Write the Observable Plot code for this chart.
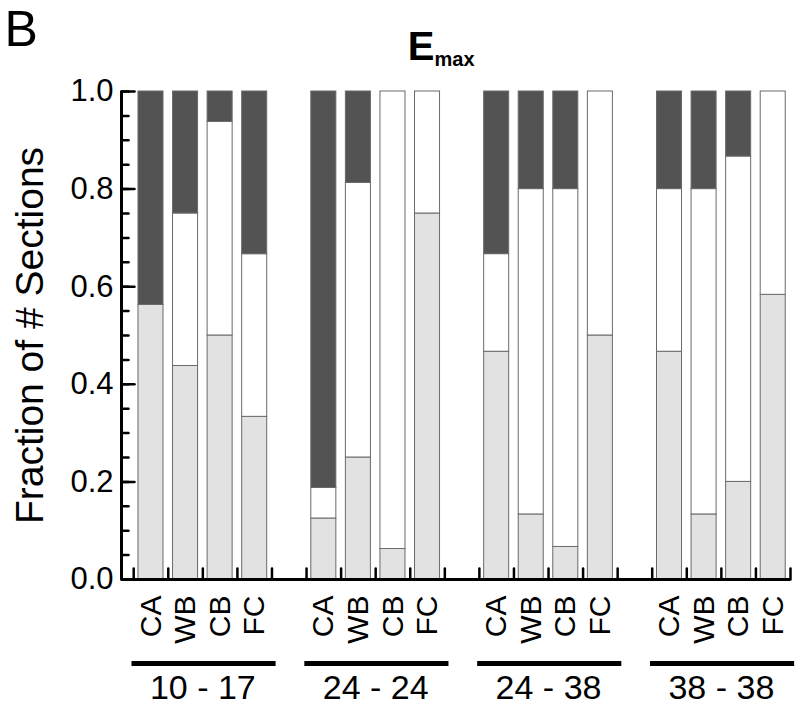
<!DOCTYPE html>
<html>
<head>
<meta charset="utf-8">
<script src="https://cdn.jsdelivr.net/npm/d3@7"></script>
<script src="https://cdn.jsdelivr.net/npm/@observablehq/plot@0.6"></script>
<style>
  html, body { margin: 0; padding: 0; background: #fff; }
  #chart svg { display: block; }
</style>
</head>
<body>
<div id="chart"></div>
<script>
// ---- data ----
const groups = ["10 - 17", "24 - 24", "24 - 38", "38 - 38"];
const regions = ["CA", "WB", "CB", "FC"];
// fraction per bar, group by group, region order CA WB CB FC
const lightFrac = [0.5625, 0.4375, 0.5, 0.3333, 0.125, 0.25, 0.0625, 0.75, 0.4667, 0.1333, 0.0667, 0.5, 0.4667, 0.1333, 0.2, 0.5833];
const whiteFrac = [0, 0.3125, 0.4375, 0.3333, 0.0625, 0.5625, 0.9375, 0.25, 0.2, 0.6667, 0.7333, 0.5, 0.3333, 0.6667, 0.6667, 0.4167];
const darkFrac  = [0.4375, 0.25, 0.0625, 0.3334, 0.8125, 0.1875, 0, 0, 0.3333, 0.2, 0.2, 0, 0.2, 0.2, 0.1333, 0];
const yTickValues = [0, 0.2, 0.4, 0.6, 0.8, 1.0];
const yMinorValues = d3.range(0, 1.0001, 0.05);
const seriesNames = ["light", "white", "dark"];
const seriesColors = ["#e2e2e2", "#ffffff", "#535353"];

// ---- build table ----
const slotsPerGroup = regions.length + 1;
const bars = [];
groups.forEach((g, gi) => regions.forEach((r, ri) => {
  bars.push({group: g, region: r, slot: gi * slotsPerGroup + ri, idx: gi * regions.length + ri});
}));
const rows = [];
bars.forEach(b => {
  const vals = [lightFrac[b.idx], whiteFrac[b.idx], darkFrac[b.idx]];
  let acc = 0;
  vals.forEach((v, si) => {
    if (v > 0) rows.push({slot: b.slot, series: seriesNames[si], y1: acc, y2: acc + v});
    acc += v;
  });
});
const boundaries = [];
groups.forEach((g, gi) => { for (let k = 0; k <= regions.length; k++) boundaries.push(gi * slotsPerGroup + k - 0.5); });
const half = 0.362;
const xDomain = [-0.853, 18.5];
const font = "'Liberation Sans', Arial, Helvetica, sans-serif";
const tickShape = {draw(context, l) { context.moveTo(0, 0); context.lineTo(0, -l); }};

const chart = Plot.plot({
  width: 800,
  height: 710,
  marginTop: 91,
  marginBottom: 131,
  marginLeft: 121,
  marginRight: 10,
  style: {fontFamily: font, background: "#fff", color: "#000", overflow: "visible"},
  x: {domain: xDomain, axis: null},
  y: {domain: [0, 1], axis: null},
  color: {domain: seriesNames, range: seriesColors},
  marks: [
    Plot.rect(rows, {
      x1: d => d.slot - half, x2: d => d.slot + half,
      y1: "y1", y2: "y2",
      fill: "series", stroke: "#6a6a6a", strokeWidth: 1
    }),
    // axis lines
    Plot.ruleX([xDomain[0]], {stroke: "#000", strokeWidth: 3}),
    Plot.ruleY([0], {stroke: "#000", strokeWidth: 3}),
    // y axis ticks (inward)
    Plot.vector(yMinorValues, {x: () => xDomain[0], y: d => d, length: 7, rotate: 90, anchor: "start", shape: tickShape, stroke: "#000", strokeWidth: 2.5}),
    Plot.vector(yTickValues, {x: () => xDomain[0], y: d => d, length: 13, rotate: 90, anchor: "start", shape: tickShape, stroke: "#000", strokeWidth: 2.5}),
    // y tick labels
    Plot.axisY(yTickValues, {anchor: "left", tickSize: 0, tickPadding: 8, tickFormat: d3.format(".1f"), fontSize: 31, label: null}),
    // x axis ticks (inward)
    Plot.vector(boundaries, {x: d => d, y: () => 0, length: 11, rotate: 0, anchor: "start", shape: tickShape, stroke: "#000", strokeWidth: 2.5}),
    // category labels
    Plot.text(bars, {x: "slot", y: () => 0, text: "region", rotate: -90, textAnchor: "end", lineAnchor: "middle", dy: 16, fontSize: 30, fill: "#000"}),
    // group underline
    Plot.ruleY(groups, {y: () => 0, x1: (d, i) => i * slotsPerGroup - 0.55, x2: (d, i) => i * slotsPerGroup + regions.length - 0.38, dy: 84, strokeWidth: 5, stroke: "#000"}),
    // group labels
    Plot.text(groups, {x: (d, i) => i * slotsPerGroup + (regions.length - 1) / 2, y: () => 0, text: d => d, dy: 109, fontSize: 34, lineAnchor: "middle", fill: "#000"}),
    // y label
    Plot.text(["Fraction of # Sections"], {frameAnchor: "left", dx: -91, rotate: -90, textAnchor: "middle", lineAnchor: "middle", fontSize: 39, fill: "#000"}),
    // panel letter
    Plot.text(["B"], {frameAnchor: "top-left", dx: -117, dy: -45.5, textAnchor: "start", lineAnchor: "bottom", fontSize: 50, fill: "#000"}),
    // title E_max
    Plot.text(["E"], {frameAnchor: "top-left", dx: 313, dy: -32, textAnchor: "end", lineAnchor: "bottom", fontSize: 40, fontWeight: "bold", fill: "#000"}),
    Plot.text(["max"], {frameAnchor: "top-left", dx: 313, dy: -26, textAnchor: "start", lineAnchor: "bottom", fontSize: 20, fontWeight: "bold", fill: "#000"})
  ]
});
document.getElementById("chart").appendChild(chart);
</script>
</body>
</html>
